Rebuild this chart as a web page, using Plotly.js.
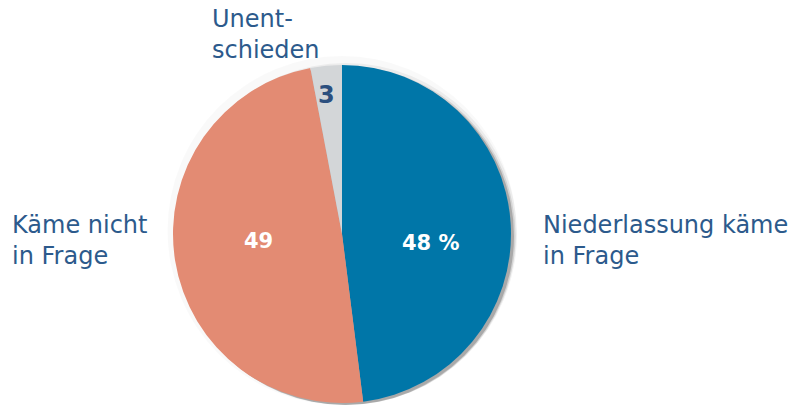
<!DOCTYPE html>
<html><head><meta charset="utf-8">
<script src="https://cdn.plot.ly/plotly-3.0.1.min.js"></script>
<style>html,body{margin:0;padding:0;background:#fff}</style>
</head><body>
<div id="chart" style="width:793px;height:405px"></div>
<script>
const categories = ["Niederlassung käme in Frage", "Käme nicht in Frage", "Unentschieden"];
const values = [48, 49, 3];
const valueLabels = ["48 %", "49", "3"];
const outerLabels = ["Niederlassung käme<br>in Frage", "Käme nicht<br>in Frage", "Unent-<br>schieden"];
const colors = ["#0076A8", "#E38B73", "#D3D6D8"];
const valueTextColors = ["#ffffff", "#ffffff", "#2B4F7E"];

const W = 793, H = 405;
const cx = 342, cy = 234, R = 169;
function dom(dx, dy, r) {
  return {
    x: [(cx + dx - r) / W, (cx + dx + r) / W],
    y: [(H - (cy + dy) - r) / H, (H - (cy + dy) + r) / H]
  };
}
const shadowLayers = [
  {dx: 0, dy: 0, r: R + 9, c: "rgba(0,0,0,0.025)"},
  {dx: 4, dy: 4, r: R + 6, c: "rgba(0,0,0,0.05)"},
  {dx: 4, dy: 4, r: R + 3, c: "rgba(0,0,0,0.10)"},
  {dx: 3, dy: 3, r: R + 1, c: "rgba(0,0,0,0.20)"}
];
const traces = shadowLayers.map(s => ({
  type: "pie", values: [1], labels: ["s"], domain: dom(s.dx, s.dy, s.r),
  marker: {colors: [s.c], line: {width: 0}}, textinfo: "none", hoverinfo: "skip",
  showlegend: false, sort: false
}));
traces.push({
  type: "pie",
  labels: categories,
  values: values,
  textinfo: "none",
  marker: {colors: colors, line: {width: 0}},
  sort: false,
  direction: "clockwise",
  rotation: 0,
  domain: dom(0, 0, R),
  showlegend: false,
  hoverinfo: "label+value"
});

// value label placement (pixel positions in the figure) and sizes
const valuePos = [{x: 431, y: 243, s: 21}, {x: 258, y: 241, s: 21}, {x: 326, y: 95, s: 24}];
const valueAnns = valueLabels.map((t, i) => ({
  text: "<b>" + t + "</b>", x: valuePos[i].x / W, y: 1 - valuePos[i].y / H, xref: "paper", yref: "paper",
  xanchor: "center", yanchor: "middle", showarrow: false,
  font: {family: "DejaVu Sans, sans-serif", size: valuePos[i].s, color: valueTextColors[i]}
}));

const labelFont = {family: "DejaVu Sans, sans-serif", size: 24, color: "#2C5A8C"};
const annPos = [
  {x: 541, y: 240},
  {x: 10, y: 240},
  {x: 210, y: 35}
];
const annotations = outerLabels.map((t, i) => ({
  text: t, x: annPos[i].x / W, y: 1 - annPos[i].y / H, xref: "paper", yref: "paper",
  xanchor: "left", yanchor: "middle", align: "left", showarrow: false, font: labelFont
})).concat(valueAnns);

Plotly.newPlot("chart", traces, {
  width: W, height: H, margin: {l: 0, r: 0, t: 0, b: 0},
  paper_bgcolor: "#ffffff", plot_bgcolor: "#ffffff",
  annotations: annotations
}, {staticPlot: true});
</script>
</body></html>
